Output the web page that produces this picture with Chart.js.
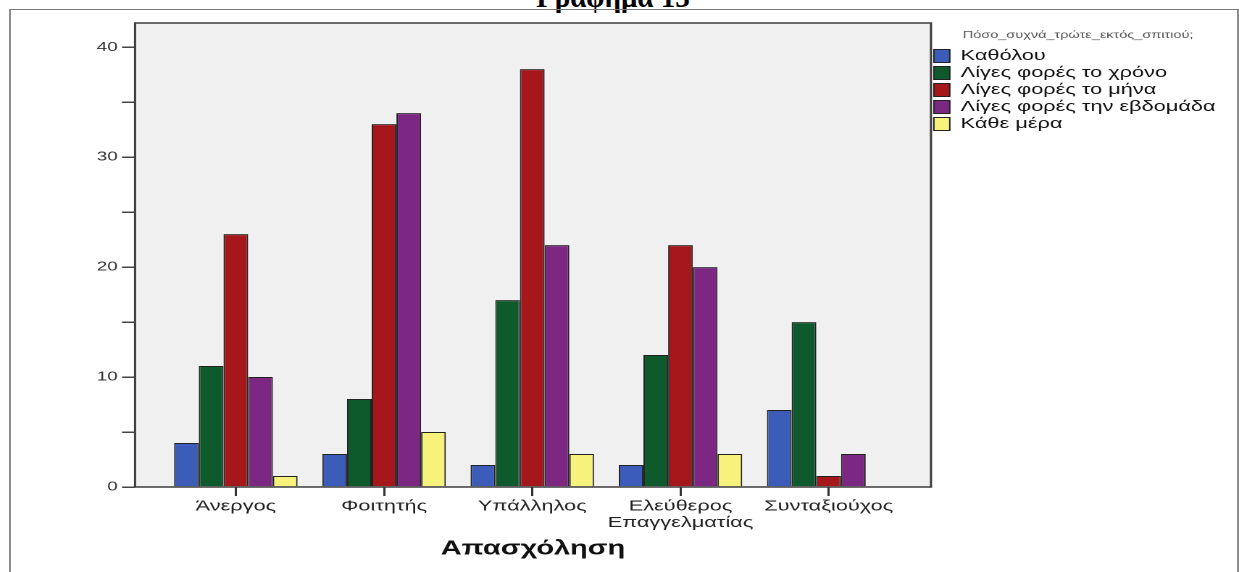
<!DOCTYPE html>
<html>
<head>
<meta charset="utf-8">
<script src="https://cdn.jsdelivr.net/npm/chart.js@4"></script>
<style>
  body { margin:0; background:#fff; overflow:hidden; width:1239px; height:572px; }
  #frame { position:absolute; left:9px; top:9px; width:1230px; height:600px; box-sizing:border-box;
           border-top:1px solid #7a7a7a; border-left:2px solid #8c8c8c; border-right:2px solid #8c8c8c; }
  #docTitle { position:absolute; top:-17px; left:0; width:1226px; text-align:center;
              font:bold 29px "Liberation Serif", serif; line-height:1; color:#000; }
  #stretch { position:absolute; left:0; top:0; width:855px; height:572px;
             transform:scaleX(1.44912); transform-origin:0 0; }
</style>
</head>
<body>
<div id="docTitle">Γράφημα 13</div>
<div id="frame"></div>
<div id="stretch"><canvas id="chart" width="855" height="572"></canvas></div>
<script>
// ===== data =====
const categories = ['Άνεργος', 'Φοιτητής', 'Υπάλληλος', ['Ελεύθερος', 'Επαγγελματίας'], 'Συνταξιούχος'];
const seriesNames = ['Καθόλου', 'Λίγες φορές το χρόνο', 'Λίγες φορές το μήνα', 'Λίγες φορές την εβδομάδα', 'Κάθε μέρα'];
const katholou      = [4, 3, 2, 2, 7];
const ligesXrono    = [11, 8, 17, 12, 15];
const ligesMina     = [23, 33, 38, 22, 1];
const ligesEvdomada = [10, 34, 22, 20, 3];
const katheMera     = [1, 5, 3, 3, 0];
const yTicks = [0, 5, 10, 15, 20, 25, 30, 35, 40];
const colors = ['#3b5cb8', '#0f5a2d', '#a5171b', '#7c2883', '#f7f27c'];

const series = [katholou, ligesXrono, ligesMina, ligesEvdomada, katheMera];

Chart.defaults.font.family = '"Liberation Sans", Arial, sans-serif';

// grey plot background + dark frame
const plotFrame = {
  id: 'plotFrame',
  beforeDraw(chart) {
    const {ctx, chartArea: a} = chart;
    ctx.save();
    ctx.fillStyle = '#f0f0f0';
    ctx.fillRect(a.left, a.top, a.width, a.height);
    ctx.restore();
  },
  afterDatasetsDraw(chart) {
    const {ctx, chartArea: a} = chart;
    ctx.save();
    ctx.strokeStyle = '#3c3c3c';
    ctx.lineWidth = 1.5;
    ctx.strokeRect(a.left, a.top, a.width, a.height);
    ctx.restore();
  }
};

new Chart(document.getElementById('chart'), {
  type: 'bar',
  data: {
    datasets: series.map((vals, s) => ({
      label: seriesNames[s],
      data: vals.map((v, i) => ({x: i, y: v})),
      backgroundColor: colors[s],
      borderColor: '#222',
      borderWidth: 1,
      categoryPercentage: 0.833,
      barPercentage: 1
    }))
  },
  options: {
    responsive: false,
    animation: false,
    devicePixelRatio: 2,
    layout: { padding: { left: 33.2, right: 9.5, top: 23, bottom: 11 } },
    scales: {
      x: {
        type: 'linear',
        min: -0.68,
        max: 4.69,
        offset: false,
        afterBuildTicks: axis => { axis.ticks = categories.map((c, i) => ({value: i})); },
        afterFit: s => { s.height = 74; },
        ticks: {
          callback: v => categories[v],
          autoSkip: false,
          maxRotation: 0,
          color: '#222',
          padding: 2,
          font: { size: 15, lineHeight: 1.1 }
        },
        grid: { offset: false, drawOnChartArea: false, drawTicks: true, tickLength: 9, color: '#333', lineWidth: 1.5 },
        border: { display: false },
        title: {
          display: true,
          text: 'Απασχόληση',
          color: '#111',
          padding: 0,
          font: { size: 20, weight: 'bold' }
        }
      },
      y: {
        min: 0,
        max: 42.2,
        afterBuildTicks: axis => { axis.ticks = yTicks.map(v => ({value: v})); },
        afterFit: s => { s.width = 60; },
        ticks: {
          callback: v => (v % 10 === 0 ? v : ''),
          color: '#333',
          padding: 3,
          font: { size: 13 }
        },
        grid: { drawOnChartArea: false, drawTicks: true, tickLength: 9, color: '#444', lineWidth: 1.5 },
        border: { display: false }
      }
    },
    plugins: {
      tooltip: { enabled: false },
      legend: {
        position: 'right',
        align: 'start',
        title: {
          display: true,
          text: 'Πόσο_συχνά_τρώτε_εκτός_σπιτιού;',
          position: 'center',
          color: '#555',
          padding: { top: 7, bottom: 4.5 },
          font: { size: 10 }
        },
        labels: {
          boxWidth: 11,
          boxHeight: 13,
          padding: 2,
          color: '#111',
          font: { size: 15 }
        }
      }
    }
  },
  plugins: [plotFrame]
});
</script>
</body>
</html>
